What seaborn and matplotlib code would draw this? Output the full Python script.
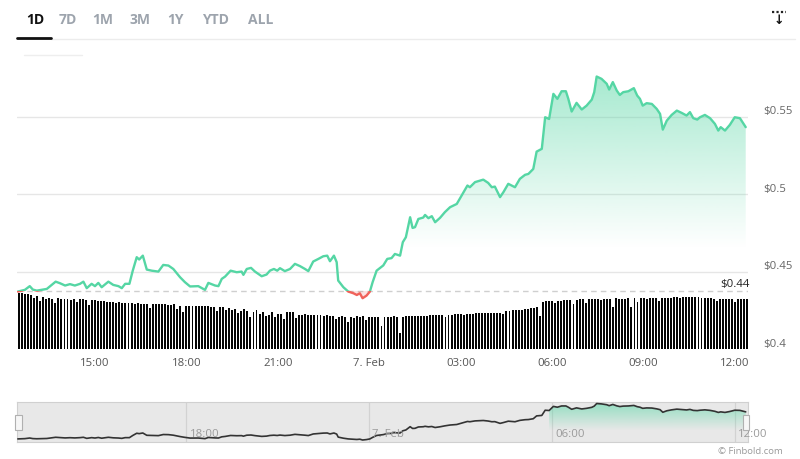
import numpy as np
import matplotlib
matplotlib.use("Agg")
import matplotlib.pyplot as plt
import seaborn as sns
from matplotlib.patches import Rectangle
from matplotlib.path import Path
from matplotlib.lines import Line2D
from matplotlib.colors import to_rgb
import matplotlib.transforms as mtransforms

# ---------------- data (hours relative to 00:00, 7 Feb) ----------------
hours = [-11.53, -11.30, -11.14, -11.04, -10.91, -10.71, -10.58, -10.42, -10.29, -10.15,
         -9.98, -9.82, -9.66, -9.49, -9.38, -9.27, -9.11, -9.00, -8.89, -8.78,
         -8.56, -8.40, -8.23, -8.12, -8.01, -7.87, -7.76, -7.63, -7.55, -7.43,
         -7.30, -7.14, -6.92, -6.76, -6.59, -6.43, -6.21, -6.05, -5.88, -5.61,
         -5.39, -5.28, -5.06, -4.95, -4.84, -4.73, -4.55, -4.35, -4.19, -4.13,
         -4.02, -3.88, -3.75, -3.53, -3.37, -3.26, -3.13, -3.02, -2.93, -2.77,
         -2.60, -2.44, -2.27, -2.11, -2.00, -1.84, -1.67, -1.51, -1.38, -1.29,
         -1.16, -1.07, -1.02, -0.85, -0.69, -0.52, -0.41, -0.31, -0.22, -0.09,
         0.02, 0.11, 0.24, 0.46, 0.59, 0.73, 0.84, 1.01, 1.10, 1.20,
         1.34, 1.42, 1.50, 1.61, 1.77, 1.83, 1.94, 2.05, 2.16, 2.32,
         2.48, 2.65, 2.87, 3.03, 3.22, 3.30, 3.47, 3.74, 3.90, 4.02,
         4.12, 4.29, 4.40, 4.56, 4.78, 4.94, 5.11, 5.22, 5.38, 5.49,
         5.66, 5.77, 5.90, 6.04, 6.17, 6.31, 6.45, 6.53, 6.64, 6.80,
         6.97, 7.13, 7.30, 7.38, 7.46, 7.62, 7.79, 7.87, 7.99, 8.12,
         8.22, 8.33, 8.50, 8.68, 8.79, 8.88, 8.97, 9.10, 9.27, 9.43,
         9.54, 9.63, 9.76, 9.92, 10.09, 10.25, 10.41, 10.52, 10.63, 10.76,
         10.85, 11.01, 11.18, 11.34, 11.45, 11.53, 11.67, 11.83, 11.99, 12.16,
         12.35]
price = [0.4371, 0.4382, 0.4406, 0.4384, 0.4377, 0.4384, 0.4388, 0.4414, 0.4435, 0.4425,
         0.4410, 0.4419, 0.4410, 0.4421, 0.4435, 0.4393, 0.4421, 0.4406, 0.4427, 0.4399,
         0.4435, 0.4414, 0.4406, 0.4393, 0.4421, 0.4421, 0.4506, 0.4593, 0.4578, 0.4603,
         0.4513, 0.4506, 0.4500, 0.4543, 0.4539, 0.4517, 0.4464, 0.4432, 0.4404, 0.4406,
         0.4382, 0.4427, 0.4410, 0.4406, 0.4453, 0.4468, 0.4506, 0.4496, 0.4500, 0.4479,
         0.4517, 0.4524, 0.4500, 0.4470, 0.4481, 0.4506, 0.4517, 0.4506, 0.4522, 0.4503,
         0.4517, 0.4550, 0.4535, 0.4517, 0.4503, 0.4565, 0.4582, 0.4599, 0.4603, 0.4567,
         0.4603, 0.4561, 0.4442, 0.4399, 0.4371, 0.4360, 0.4349, 0.4360, 0.4328, 0.4345,
         0.4371, 0.4432, 0.4506, 0.4540, 0.4582, 0.4587, 0.4614, 0.4603, 0.4690, 0.4722,
         0.4851, 0.4782, 0.4787, 0.4840, 0.4849, 0.4866, 0.4845, 0.4858, 0.4819, 0.4847,
         0.4884, 0.4916, 0.4937, 0.4991, 0.5056, 0.5045, 0.5078, 0.5094, 0.5073, 0.5045,
         0.5049, 0.4981, 0.5013, 0.5067, 0.5045, 0.5099, 0.5125, 0.5131, 0.5163, 0.5275,
         0.5293, 0.5497, 0.5486, 0.5648, 0.5616, 0.5665, 0.5665, 0.5616, 0.5534, 0.5590,
         0.5547, 0.5572, 0.5611, 0.5659, 0.5760, 0.5745, 0.5713, 0.5676, 0.5724, 0.5669,
         0.5641, 0.5659, 0.5665, 0.5685, 0.5637, 0.5616, 0.5572, 0.5588, 0.5583, 0.5551,
         0.5519, 0.5417, 0.5475, 0.5512, 0.5540, 0.5525, 0.5508, 0.5530, 0.5491, 0.5482,
         0.5497, 0.5512, 0.5491, 0.5454, 0.5411, 0.5433, 0.5411, 0.5448, 0.5497, 0.5491,
         0.5433]

vol_start = -11.5   # first bar time (hours)
vol_step = 0.1      # 6-minute bars
volume = [5.6, 5.6, 5.5, 5.5, 5.4, 5.1, 5.3, 4.8, 5.2, 5.0,
          5.1, 5.0, 4.6, 5.1, 5.0, 5.0, 5.0, 4.9, 5.0, 4.7,
          5.0, 5.0, 4.9, 4.4, 4.9, 4.9, 4.8, 4.8, 4.8, 4.7,
          4.7, 4.7, 4.6, 4.7, 4.6, 4.6, 4.6, 4.6, 4.5, 4.6,
          4.5, 4.5, 4.5, 4.1, 4.5, 4.5, 4.5, 4.5, 4.5, 4.4,
          4.4, 4.5, 4.0, 4.3, 3.7, 4.3, 4.3, 4.3, 4.3, 4.3,
          4.3, 4.3, 4.3, 4.2, 4.2, 3.8, 4.2, 4.2, 3.9, 4.1,
          3.9, 4.0, 3.6, 3.8, 4.0, 3.8, 3.2, 3.7, 3.9, 3.5,
          3.7, 3.3, 3.4, 3.7, 3.2, 3.5, 3.5, 3.0, 3.7, 3.7,
          3.7, 3.1, 3.4, 3.4, 3.5, 3.4, 3.4, 3.4, 3.4, 3.4,
          3.3, 3.4, 3.3, 3.3, 3.0, 3.2, 3.3, 3.2, 2.7, 3.2,
          3.1, 3.3, 3.2, 3.3, 2.9, 3.2, 3.2, 3.2, 3.2, 2.3,
          3.2, 3.2, 3.2, 3.3, 3.2, 1.6, 3.2, 3.3, 3.3, 3.3,
          3.3, 3.3, 3.3, 3.3, 3.3, 3.4, 3.4, 3.4, 3.4, 3.4,
          3.2, 3.4, 3.4, 3.5, 3.5, 3.5, 3.4, 3.5, 3.5, 3.5,
          3.6, 3.6, 3.6, 3.6, 3.6, 3.6, 3.6, 3.6, 3.6, 3.5,
          3.8, 3.8, 3.9, 3.9, 3.9, 3.9, 4.0, 4.0, 4.1, 4.1,
          4.2, 3.3, 4.7, 4.8, 4.8, 4.8, 4.6, 4.8, 4.8, 4.9,
          4.9, 4.9, 4.5, 4.9, 5.0, 5.0, 4.6, 5.0, 5.0, 5.0,
          5.0, 4.9, 5.0, 5.0, 5.0, 4.2, 5.1, 5.0, 5.0, 5.0,
          5.1, 4.2, 5.1, 4.7, 5.1, 5.1, 5.0, 5.1, 5.1, 5.1,
          4.8, 5.1, 5.1, 5.1, 5.1, 5.2, 5.2, 5.1, 5.2, 5.2,
          5.2, 5.2, 5.2, 5.2, 5.1, 5.1, 5.1, 5.1, 5.0, 4.8,
          5.0, 5.0, 5.0, 5.0, 5.0, 4.7, 5.0, 5.0, 5.0, 5.0]

baseline = 0.4375
baseline_label = "$0.44"
ytick_vals = [0.40, 0.45, 0.50, 0.55]
ytick_labels = ["$0.4", "$0.45", "$0.5", "$0.55"]
xtick_vals = [-9, -6, -3, 0, 3, 6, 9, 12]
xtick_labels = ["15:00", "18:00", "21:00", "7. Feb", "03:00", "06:00", "09:00", "12:00"]
nav_tick_vals = [-6, 0, 6, 12]
nav_tick_labels = ["18:00", "7. Feb", "06:00", "12:00"]
range_buttons = ["1D", "7D", "1M", "3M", "1Y", "YTD", "ALL"]

# ---------------- style ----------------
sns.set_theme(style="white")
plt.rcParams["font.family"] = ["Open Sans", "DejaVu Sans"]

GREEN = "#55d6a4"
RED = "#f0625a"
W, H = 800, 460
fig = plt.figure(figsize=(8, 4.6), dpi=100)
fig.patch.set_facecolor("white")


def fx(px):
    return px / W


def fy(py):
    return 1 - py / H


X0, X1 = -11.558, 12.425
Y0, Y1 = 0.40, 0.585
L, R, T, B = 17, 748, 63.6, 350
pos = [fx(L), fy(B), (R - L) / W, (B - T) / H]

# volume axis (behind)
ax_vol = fig.add_axes(pos)
vol_times = [vol_start + i * vol_step for i in range(len(volume))]
ax_vol.bar(vol_times, volume, width=0.063, color="#050505", linewidth=0, align="center",
           antialiased=False)
ax_vol.set_xlim(X0, X1)
ax_vol.set_ylim(0, (B - T) / 10.0)
ax_vol.axis("off")

# price axis
ax = fig.add_axes(pos)
ax.patch.set_alpha(0)
for v in ytick_vals[1:]:
    ax.axhline(v, color="#e6e6e6", lw=1, zorder=0)
ax.axhline(baseline, color="#cfcfcf", lw=1, ls=(0, (4, 3)), zorder=0.5)

h = np.array(hours)
p = np.array(price)

# green gradient area
poly = ax.fill_between(h, p, baseline, where=p >= baseline, interpolate=True,
                       facecolor="none", edgecolor="none")
cpath = Path.make_compound_path(*poly.get_paths())
grad = np.zeros((256, 1, 4))
grad[:, :, :3] = to_rgb(GREEN)
ys = np.linspace(Y1, baseline, 256)
grad[:, 0, 3] = np.clip((ys - 0.465) / (0.572 - 0.465), 0, 1) * 0.5
im = ax.imshow(grad, extent=[X0, X1, baseline, Y1], aspect="auto", origin="upper",
               zorder=1, interpolation="bilinear")
im.set_clip_path(cpath, transform=ax.transData)

# red area
ax.fill_between(h, p, baseline, where=p < baseline, interpolate=True,
                color=RED, alpha=0.18, lw=0, zorder=1)

# lines (green above baseline, red below)
sns.lineplot(x=hours, y=price, ax=ax, color=GREEN, lw=1.7, estimator=None, sort=False, zorder=3)
ln_g = ax.lines[-1]
ln_g.set_clip_path(Rectangle((X0, baseline), X1 - X0, 1.0, transform=ax.transData))
sns.lineplot(x=hours, y=price, ax=ax, color=RED, lw=1.7, estimator=None, sort=False, zorder=3)
ln_r = ax.lines[-1]
ln_r.set_clip_path(Rectangle((X0, 0.0), X1 - X0, baseline, transform=ax.transData))

ax.set_xlim(X0, X1)
ax.set_ylim(Y0, Y1)
ax.set_xlabel("")
ax.set_ylabel("")
for s in ax.spines.values():
    s.set_visible(False)
ax.set_xticks(xtick_vals)
ax.set_xticklabels(xtick_labels)
ax.tick_params(axis="x", length=0, labelsize=8.2, labelcolor="#555555", pad=5.5)
ax.set_yticks([])

for v, lab in zip(ytick_vals, ytick_labels):
    ax.annotate(lab, xy=(1, v), xycoords=("axes fraction", "data"), xytext=(10.8, 4.3),
                textcoords="offset points", ha="left", va="center", fontsize=8.2,
                color="#666666", annotation_clip=False)

ax.annotate(baseline_label, xy=(1, baseline), xycoords=("axes fraction", "data"),
            xytext=(1.5, 1.5), textcoords="offset points", ha="right", va="bottom",
            fontsize=8.2, color="#222222", annotation_clip=False)

# ---------------- header ----------------
btn_x = [35, 67.5, 103, 140.5, 175, 215.5, 260.5]
for i, (bx, lab) in enumerate(zip(btn_x, range_buttons)):
    fig.text(fx(bx), fy(19.5), lab, ha="center", va="center", fontsize=10,
             fontweight="bold", color="#111111" if i == 0 else "#9da4ad")
fig.add_artist(Line2D([fx(51), fx(795)], [fy(39.5)] * 2, color="#ececec", lw=1))
fig.add_artist(Line2D([fx(17), fx(51)], [fy(38.5)] * 2, color="#111111", lw=2))
fig.add_artist(Line2D([fx(24), fx(82)], [fy(56)] * 2, color="#eeeeee", lw=1))
# download icon
fig.add_artist(Line2D([fx(772), fx(786)], [fy(13)] * 2, color="#222222", lw=1.6, ls=(0, (1, 1))))
fig.text(fx(779), fy(20.5), "↓", ha="center", va="center", fontsize=9, fontweight="bold",
         color="#111111", family="DejaVu Sans")

# ---------------- navigator ----------------
NT, NB = 403, 443
axn = fig.add_axes([fx(L), fy(NB), (R - L) / W, (NB - NT) / H])
axn.set_facecolor("#e8e8e8")
NY0, NY1 = 0.425, 0.582
for t in nav_tick_vals:
    axn.axvline(t, color="#d2d2d2", lw=0.9, zorder=0)
nav_fill_from = 6.0
npoly = axn.fill_between(h, p, NY0, where=h >= nav_fill_from - 0.15, interpolate=True,
                         facecolor="none", edgecolor="none")
ngrad = np.zeros((128, 1, 4))
ngrad[:, :, :3] = to_rgb(GREEN)
nys = np.linspace(NY1, NY0, 128)
ngrad[:, 0, 3] = np.clip((nys - 0.47) / (0.575 - 0.47), 0, 1) * 0.55
nim = axn.imshow(ngrad, extent=[X0, X1, NY0, NY1], aspect="auto", origin="upper",
                 zorder=1, interpolation="bilinear")
nim.set_clip_path(Path.make_compound_path(*npoly.get_paths()), transform=axn.transData)
sns.lineplot(x=hours, y=price, ax=axn, color="#333333", lw=1.2, estimator=None, sort=False, zorder=3)
axn.set_xlim(X0, X1)
axn.set_ylim(NY0, NY1)
axn.set_xticks([])
axn.set_yticks([])
axn.set_xlabel("")
axn.set_ylabel("")
for s in axn.spines.values():
    s.set_color("#d0d0d0")
    s.set_linewidth(0.8)
tr = mtransforms.blended_transform_factory(axn.transData, axn.transAxes)
for t, lab in zip(nav_tick_vals, nav_tick_labels):
    axn.text(t + 0.1, 0.2, lab, transform=tr, ha="left", va="center", fontsize=8.2,
             color="#9a9a9a", clip_on=False, zorder=4)
# handles
for hx in (15, 742.5):
    fig.add_artist(Rectangle((fx(hx), fy(431)), 6.5 / W, 15 / H, transform=fig.transFigure,
                             facecolor="#f6f6f6", edgecolor="#b0b0b0", lw=0.8))

fig.text(fx(783), fy(452), "© Finbold.com", ha="right", va="center", fontsize=6.8, color="#999999")

fig.savefig("out.png", dpi=100, facecolor="white")
